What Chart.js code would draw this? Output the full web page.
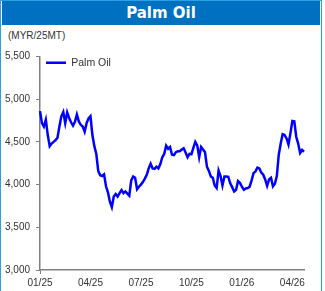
<!DOCTYPE html>
<html>
<head>
<meta charset="utf-8">
<script src="https://cdn.jsdelivr.net/npm/chart.js@4.4.1/dist/chart.umd.min.js"></script>
<style>
    body { margin: 0; background: #fff; overflow: hidden; }
    #frame {
        position: absolute; left: 0; top: 0;
        width: 320px; height: 300px;
        border: 1px solid #2ba1e3;
    }
    #banner {
        position: absolute; left: 1px; top: 0; width: 318px; height: 24px;
        background: #0070c0; color: #fff;
        font: bold 15px "DejaVu Sans", sans-serif;
        text-align: center; line-height: 25px;
    }
    #unit {
        position: absolute; left: 8px; top: 30px;
        font: 10px "Liberation Sans", Arial, sans-serif; color: #333;
    }
    canvas { position: absolute; left: 0; top: 0; }
</style>
</head>
<body>
<div id="frame">
    <div id="banner">Palm Oil</div>
</div>
<div id="unit">(MYR/25MT)</div>
<canvas id="chart" width="325" height="291"></canvas>
<script>
// roughly every 2.5 trading days, Jan 2025 .. late Apr 2026
const palmOil = [
    4860, 4720, 4680, 4760, 4580, 4450, 4480, 4500, 4520, 4550,
    4680, 4800, 4850, 4720, 4845, 4780, 4730, 4690, 4735, 4820,
    4740, 4700, 4680, 4620, 4720, 4775, 4800, 4580, 4450, 4360,
    4160, 4110, 4100, 4120, 3980, 3910, 3800, 3735, 3860, 3890,
    3860, 3900, 3935, 3900, 3920, 3895, 3870, 4050, 4095, 4080,
    3945, 3975, 4000, 4030, 4070, 4115, 4190, 4245, 4190, 4185,
    4210, 4190, 4240, 4320, 4360, 4455, 4420, 4440, 4350, 4345,
    4380, 4390, 4390, 4410, 4425, 4375, 4320, 4360, 4355, 4430,
    4500, 4460, 4320, 4440, 4410, 4380, 4210, 4160, 4095, 4080,
    3990, 3960, 4165, 4100, 3990, 4094, 4094, 4090, 4015, 3970,
    3920, 3940, 4040, 4020, 3975, 3940, 3955, 3960, 3975, 4050,
    4135, 4155, 4200, 4190, 4140, 4115, 4060, 3985, 4060, 4080,
    3980, 4010, 4100, 4350, 4480, 4590, 4580, 4540, 4470, 4600,
    4745, 4740, 4560, 4480, 4370, 4405, 4385
];
const tickLabels = ['01/25', '04/25', '07/25', '10/25', '01/26', '04/26'];
const tickIndex = [0, 26, 52, 78, 104, 130];

const categories = palmOil.map((v, i) => {
    const k = tickIndex.indexOf(i);
    return k >= 0 ? tickLabels[k] : '';
});

const font = {family: '"Liberation Sans", Arial, sans-serif', size: 10};

const legendSpot = {
    id: 'legendSpot',
    afterLayout(chart) {
        chart.legend.left = chart.chartArea.left + 1;
        chart.legend.top = chart.chartArea.top - 4;
    }
};

new Chart(document.getElementById('chart'), {
    type: 'line',
    data: {
        labels: categories,
        datasets: [{
            label: 'Palm Oil',
            data: palmOil,
            borderColor: '#0000ff',
            backgroundColor: '#0000ff',
            borderWidth: 2.5,
            pointRadius: 0,
            tension: 0,
            fill: false
        }]
    },
    options: {
        responsive: false,
        animation: false,
        layout: {
            padding: {left: 5, top: 56.5, right: 21, bottom: 0}
        },
        plugins: {
            tooltip: {enabled: false},
            legend: {
                position: 'chartArea',
                align: 'start',
                labels: {
                    usePointStyle: true,
                    pointStyle: 'line',
                    pointStyleWidth: 20,
                    padding: 5,
                    color: '#333',
                    font: {family: font.family, size: 10.5}
                }
            }
        },
        scales: {
            x: {
                ticks: {
                    autoSkip: false,
                    maxRotation: 0,
                    padding: 3,
                    color: '#333',
                    font: font,
                    callback(value) {
                        return this.getLabelForValue(value) || null;
                    }
                },
                grid: {
                    drawOnChartArea: false,
                    tickLength: 4,
                    color: ctx => tickIndex.includes(ctx.index) ? '#808080' : 'transparent'
                },
                border: {color: '#808080', width: 1.5},
                afterFit(scale) { scale.height = 21; }
            },
            y: {
                min: 3000,
                max: 5500,
                ticks: {
                    stepSize: 500,
                    crossAlign: 'far',
                    color: '#333',
                    font: font,
                    callback: v => v.toLocaleString('en-US')
                },
                grid: {
                    drawOnChartArea: false,
                    tickLength: 4,
                    color: '#808080'
                },
                border: {color: '#808080', width: 1.5},
                afterFit(scale) { scale.width = 35; }
            }
        }
    },
    plugins: [legendSpot]
});
</script>
</body>
</html>
